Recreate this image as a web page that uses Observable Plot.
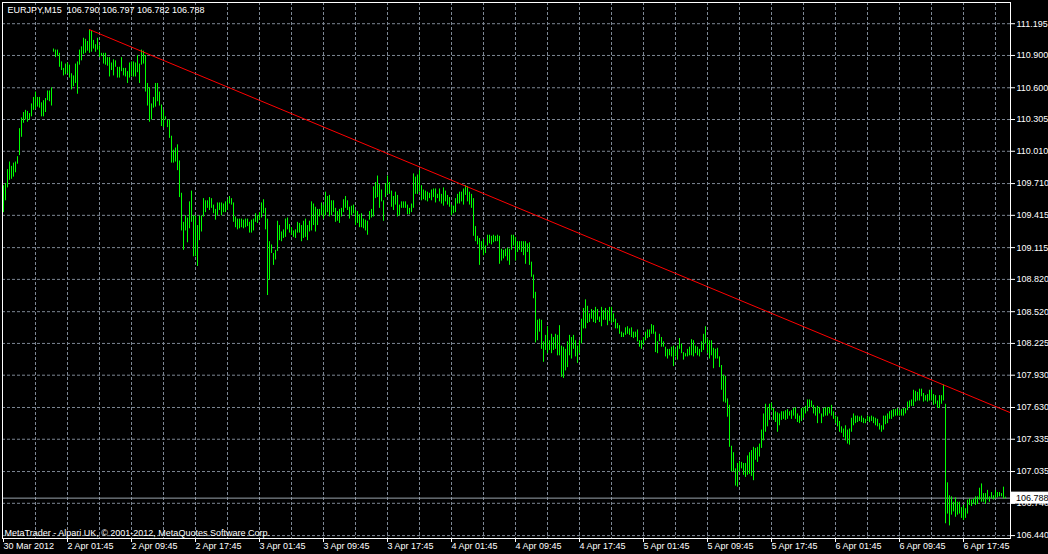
<!DOCTYPE html>
<html><head><meta charset="utf-8">
<script src="https://cdn.jsdelivr.net/npm/d3@7"></script>
<script src="https://cdn.jsdelivr.net/npm/@observablehq/plot@0.6"></script>
<style>
html,body{margin:0;padding:0;background:#000;overflow:hidden;}
</style></head><body><div id="chart"></div>
<script>
// EURJPY M15 bars, 30 Mar 2012 17:45 .. 6 Apr 2012 (bar index 0..501)
const high = [
109.69,109.71,109.84,109.91,109.87,109.90,109.91,109.96,110.22,110.32,
110.37,110.39,110.38,110.36,110.45,110.51,110.56,110.51,110.51,110.46,
110.48,110.50,110.57,110.57,110.60,110.96,110.95,110.95,110.92,110.84,
110.78,110.82,110.83,110.81,110.73,110.71,110.82,110.84,110.95,110.98,
111.06,111.05,111.03,111.14,111.13,111.04,111.00,111.06,110.99,110.92,
110.92,110.92,110.88,110.88,110.83,110.86,110.85,110.79,110.79,110.88,
110.78,110.78,110.75,110.83,110.84,110.84,110.83,110.90,110.82,110.95,
110.94,110.90,110.64,110.60,110.45,110.51,110.64,110.64,110.56,110.44,
110.39,110.33,110.30,110.30,110.15,110.02,110.04,110.07,109.92,109.62,
109.35,109.41,109.39,109.54,109.64,109.41,109.41,109.32,109.41,109.41,
109.57,109.55,109.55,109.58,109.57,109.51,109.47,109.53,109.53,109.53,
109.52,109.54,109.56,109.59,109.57,109.53,109.40,109.38,109.38,109.38,
109.37,109.38,109.38,109.35,109.37,109.38,109.43,109.41,109.44,109.53,
109.56,109.48,109.38,109.17,109.14,109.06,109.09,109.36,109.32,109.26,
109.28,109.38,109.39,109.33,109.30,109.27,109.28,109.35,109.34,109.32,
109.36,109.38,109.32,109.36,109.54,109.52,109.49,109.47,109.47,109.53,
109.51,109.63,109.59,109.60,109.55,109.55,109.48,109.45,109.47,109.48,
109.56,109.59,109.55,109.49,109.50,109.51,109.46,109.45,109.42,109.43,
109.38,109.37,109.36,109.45,109.47,109.68,109.72,109.78,109.70,109.65,
109.55,109.71,109.78,109.72,109.64,109.59,109.63,109.60,109.51,109.54,
109.54,109.54,109.51,109.48,109.52,109.80,109.77,109.79,109.83,109.69,
109.65,109.64,109.63,109.62,109.65,109.66,109.66,109.61,109.66,109.61,
109.67,109.64,109.60,109.58,109.51,109.50,109.57,109.61,109.63,109.63,
109.66,109.69,109.68,109.63,109.61,109.57,109.31,109.22,109.20,109.17,
109.19,109.13,109.23,109.23,109.22,109.23,109.22,109.23,109.22,109.10,
109.09,109.10,109.11,109.10,109.23,109.23,109.21,109.17,109.17,109.17,
109.17,109.17,109.15,109.16,108.98,108.86,108.70,108.44,108.45,108.44,
108.24,108.30,108.38,108.25,108.31,108.28,108.31,108.30,108.39,108.20,
108.19,108.17,108.24,108.30,108.28,108.30,108.25,108.20,108.25,108.45,
108.55,108.63,108.57,108.50,108.54,108.53,108.56,108.54,108.47,108.56,
108.53,108.55,108.53,108.56,108.56,108.50,108.45,108.41,108.39,108.33,
108.32,108.37,108.38,108.36,108.37,108.33,108.33,108.35,108.25,108.25,
108.28,108.33,108.35,108.35,108.40,108.39,108.33,108.24,108.31,108.28,
108.24,108.19,108.17,108.17,108.19,108.20,108.17,108.20,108.27,108.22,
108.14,108.13,108.17,108.19,108.26,108.25,108.20,108.19,108.17,108.24,
108.31,108.38,108.27,108.25,108.25,108.18,108.17,108.18,108.10,108.02,
107.93,107.92,107.71,107.65,107.27,107.21,107.06,107.11,107.13,107.12,
107.11,107.11,107.18,107.21,107.23,107.26,107.25,107.26,107.29,107.42,
107.57,107.66,107.63,107.66,107.67,107.62,107.59,107.58,107.57,107.59,
107.59,107.60,107.61,107.59,107.60,107.62,107.63,107.57,107.55,107.62,
107.63,107.64,107.70,107.70,107.69,107.65,107.63,107.64,107.63,107.57,
107.62,107.63,107.63,107.63,107.65,107.59,107.55,107.54,107.50,107.45,
107.43,107.46,107.42,107.43,107.53,107.57,107.55,107.55,107.54,107.55,
107.53,107.52,107.55,107.54,107.55,107.54,107.53,107.52,107.48,107.46,
107.55,107.55,107.57,107.59,107.60,107.61,107.61,107.62,107.60,107.61,
107.62,107.62,107.68,107.69,107.70,107.79,107.78,107.77,107.80,107.80,
107.76,107.74,107.75,107.79,107.79,107.75,107.74,107.69,107.74,107.74,
107.84,107.66,106.93,106.81,106.80,106.75,106.79,106.75,106.75,106.70,
106.72,106.69,106.77,106.78,106.77,106.78,106.80,106.80,106.88,106.92,
106.83,106.83,106.86,106.80,106.84,106.81,106.86,106.84,106.84,106.83,
106.89,106.797
];
const low = [
109.44,109.55,109.67,109.74,109.75,109.77,109.81,109.89,109.97,110.14,
110.27,110.30,110.28,110.30,110.33,110.39,110.40,110.42,110.41,110.33,
110.33,110.37,110.48,110.47,110.43,110.93,110.88,110.89,110.79,110.76,
110.71,110.72,110.73,110.69,110.58,110.61,110.64,110.54,110.81,110.85,
110.91,110.92,110.94,110.92,110.93,110.96,110.93,110.95,110.88,110.89,
110.82,110.81,110.80,110.70,110.76,110.71,110.79,110.69,110.69,110.75,
110.71,110.70,110.64,110.69,110.70,110.70,110.70,110.74,110.64,110.81,
110.82,110.56,110.43,110.28,110.30,110.41,110.42,110.47,110.43,110.24,
110.23,110.30,110.23,110.13,109.90,109.90,109.91,109.83,109.58,109.27,
109.09,109.27,109.16,109.29,109.35,109.03,109.03,108.94,109.18,109.26,
109.40,109.44,109.48,109.46,109.48,109.43,109.37,109.41,109.46,109.41,
109.44,109.44,109.46,109.52,109.51,109.35,109.30,109.28,109.29,109.30,
109.29,109.30,109.31,109.25,109.25,109.27,109.35,109.34,109.37,109.39,
109.43,109.28,108.67,108.81,109.06,108.95,109.00,109.08,109.18,109.17,
109.20,109.21,109.28,109.25,109.23,109.21,109.20,109.25,109.25,109.17,
109.20,109.21,109.18,109.26,109.27,109.32,109.26,109.32,109.40,109.41,
109.38,109.41,109.44,109.40,109.41,109.44,109.35,109.36,109.34,109.40,
109.44,109.48,109.46,109.38,109.41,109.43,109.32,109.34,109.30,109.30,
109.29,109.27,109.23,109.37,109.39,109.40,109.57,109.58,109.48,109.54,
109.36,109.58,109.61,109.61,109.49,109.46,109.51,109.40,109.41,109.48,
109.48,109.48,109.42,109.42,109.44,109.48,109.61,109.61,109.63,109.55,
109.56,109.55,109.54,109.57,109.55,109.58,109.53,109.57,109.54,109.52,
109.50,109.54,109.51,109.49,109.41,109.43,109.44,109.52,109.52,109.54,
109.51,109.60,109.54,109.51,109.48,109.22,109.17,109.14,108.95,109.09,
109.04,109.06,109.13,109.15,109.14,109.16,109.17,109.17,108.96,108.99,
109.01,109.03,108.99,108.95,109.09,109.13,108.99,109.07,109.09,109.07,
109.04,108.96,109.07,108.95,108.84,108.64,108.23,108.25,108.33,108.17,
108.05,108.16,108.13,108.16,108.13,108.16,108.17,108.11,108.11,107.91,
107.90,107.97,108.00,108.11,108.08,108.17,108.10,108.04,108.13,108.22,
108.36,108.36,108.41,108.42,108.45,108.42,108.41,108.44,108.42,108.38,
108.44,108.44,108.39,108.43,108.41,108.42,108.36,108.36,108.31,108.28,
108.28,108.30,108.31,108.30,108.28,108.27,108.28,108.24,108.19,108.17,
108.21,108.25,108.27,108.28,108.31,108.31,108.14,108.13,108.24,108.19,
108.19,108.10,108.08,108.11,108.10,108.01,108.10,108.07,108.17,108.13,
108.07,108.10,108.10,108.11,108.11,108.10,108.13,108.11,108.10,108.14,
108.16,108.22,108.13,108.08,108.11,107.99,108.08,108.08,108.00,107.79,
107.68,107.67,107.54,107.26,107.03,107.03,106.90,106.89,107.03,107.06,
107.00,106.98,107.00,107.01,106.99,106.95,107.14,107.12,107.17,107.25,
107.32,107.40,107.45,107.51,107.60,107.51,107.49,107.40,107.46,107.51,
107.52,107.51,107.52,107.55,107.52,107.55,107.52,107.49,107.48,107.50,
107.53,107.57,107.59,107.63,107.63,107.57,107.55,107.48,107.57,107.48,
107.54,107.55,107.55,107.57,107.55,107.52,107.48,107.45,107.40,107.39,
107.35,107.32,107.29,107.28,107.40,107.46,107.48,107.49,107.50,107.49,
107.48,107.48,107.50,107.49,107.50,107.48,107.46,107.45,107.42,107.40,
107.42,107.47,107.48,107.52,107.52,107.54,107.55,107.55,107.55,107.55,
107.55,107.57,107.60,107.63,107.64,107.64,107.68,107.69,107.69,107.73,
107.68,107.69,107.68,107.69,107.69,107.65,107.66,107.62,107.62,107.66,
107.69,106.55,106.64,106.53,106.63,106.66,106.61,106.63,106.64,106.60,
106.58,106.60,106.64,106.72,106.71,106.73,106.72,106.73,106.77,106.75,
106.75,106.73,106.77,106.75,106.78,106.77,106.78,106.79,106.80,106.80,
106.78,106.782
];
const timeLabels = ["30 Mar 2012","2 Apr 01:45","2 Apr 09:45","2 Apr 17:45","3 Apr 01:45","3 Apr 09:45",
  "3 Apr 17:45","4 Apr 01:45","4 Apr 09:45","4 Apr 17:45","5 Apr 01:45","5 Apr 09:45","5 Apr 17:45",
  "6 Apr 01:45","6 Apr 09:45","6 Apr 17:45"];
const priceTicks = [111.195,110.900,110.600,110.305,110.010,109.710,109.415,109.115,108.820,
  108.520,108.225,107.930,107.630,107.335,107.035,106.740,106.440];
const lastClose = 106.788;
const trendAnchors = [{i: 43, p: 111.14}, {i: 470, p: 107.84}];
const titleText = "EURJPY,M15  106.790 106.797 106.782 106.788";
const copyrightText = "MetaTrader - Alpari UK, \u00A9 2001-2012, MetaQuotes Software Corp.";

const n = Math.min(high.length, low.length);
const bars = d3.range(n).map(i => ({i, high: high[i], low: low[i]}));
const X0 = -0.5, X1 = 503.5;
const labelIdx = timeLabels.map((_, k) => k * 32);
const labelOf = new Map(labelIdx.map((v, k) => [v, timeLabels[k]]));
const gridIdx = d3.range(16, 504, 16);
const [a, b] = trendAnchors;
const slope = (b.p - a.p) / (b.i - a.i);
const trend = [a, {i: X1, p: a.p + slope * (X1 - a.i)}];
const font = "'Liberation Sans', Arial, sans-serif";
const gridColor = "#7d8794";

const plot = Plot.plot({
  width: 1048, height: 554,
  marginLeft: 2, marginRight: 38, marginTop: 2, marginBottom: 16,
  style: {background: "#000", color: "#fff", fontFamily: font, fontSize: "9px"},
  x: {domain: [X0, X1], axis: null, label: null},
  y: {domain: [106.413, 111.392], axis: null, label: null},
  marks: [
    Plot.ruleY(priceTicks, {stroke: gridColor, strokeDasharray: "3,2"}),
    Plot.ruleX(gridIdx, {stroke: gridColor, strokeDasharray: "3,2"}),
    Plot.ruleY([lastClose], {stroke: "#9aa3ad"}),
    Plot.ruleX(bars, {x: "i", y1: "low", y2: "high", stroke: "#00ff00"}),
    Plot.line(trend, {x: "i", y: "p", stroke: "#ff0000", strokeWidth: 1}),
    Plot.frame({stroke: "#fff"}),
    Plot.axisY(priceTicks, {anchor: "right", label: null, tickSize: 4, tickPadding: 2, tickFormat: d3.format(".3f"), fontSize: 9}),
    Plot.axisX(labelIdx, {anchor: "bottom", label: null, tickSize: 4, tickPadding: 0, tickFormat: d => labelOf.get(d), textAnchor: "start", fontSize: 9}),
    Plot.text([titleText], {frameAnchor: "top-left", dx: 5, dy: 4, textAnchor: "start", lineAnchor: "top", fill: "#fff", fontSize: 9}),
    Plot.text([copyrightText], {frameAnchor: "bottom-left", dx: 2, dy: -3, textAnchor: "start", lineAnchor: "bottom", fill: "#fff", fontSize: 9})
  ]
});
document.getElementById("chart").appendChild(plot);

// current price tag on the right axis
const yy = plot.scale("y").apply(lastClose);
const xr = plot.scale("x").apply(X1);
const g = d3.select(plot).append("g").attr("text-anchor", "start");
g.append("rect").attr("x", xr + 1).attr("y", yy - 6).attr("width", 1048 - xr).attr("height", 12).attr("fill", "#fff");
g.append("text").attr("x", xr + 6).attr("y", yy).attr("dy", "0.35em").attr("text-anchor", "start")
  .attr("fill", "#000").attr("font-family", font).attr("font-size", 9)
  .text(d3.format(".3f")(lastClose));
</script>
</body></html>
